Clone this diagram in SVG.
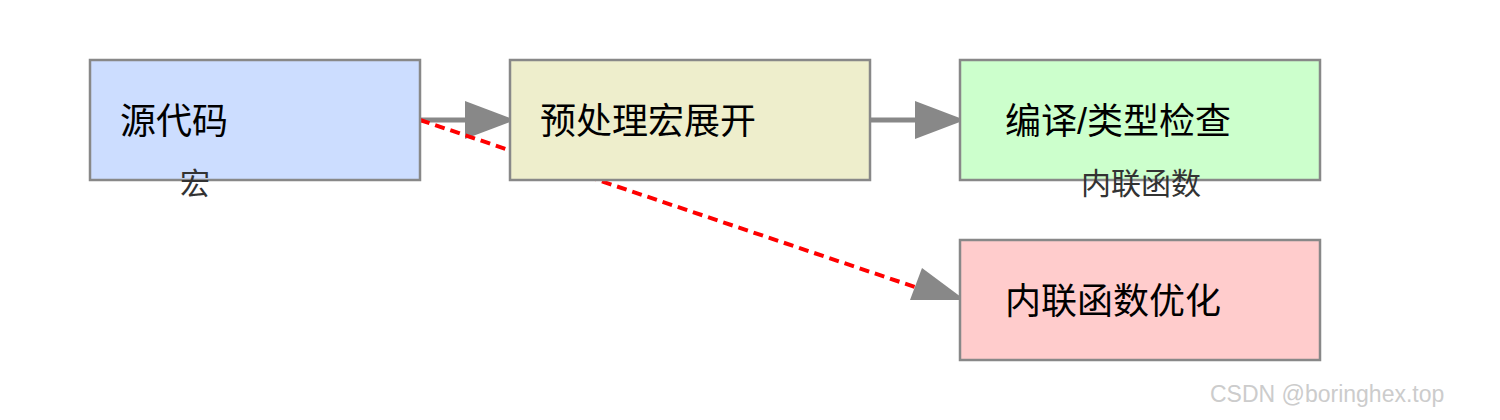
<svg xmlns="http://www.w3.org/2000/svg" width="1500" height="420" viewBox="0 0 1500 420">
<style>
.b{stroke:#888;stroke-width:2.5}
.t{font-family:"Liberation Sans","Noto Sans CJK SC",sans-serif;font-size:36px;fill:#000}
.s{font-family:"Liberation Sans","Noto Sans CJK SC",sans-serif;font-size:30px;fill:#333}
</style>
<rect width="1500" height="420" fill="#fff"/>
<g id="connectors">
<line x1="420" y1="120" x2="470" y2="120" stroke="#888" stroke-width="5"/>
<polygon points="465,101 515,120 465,139" fill="#888"/>
<line x1="870" y1="120" x2="920" y2="120" stroke="#888" stroke-width="5"/>
<polygon points="915,101 965,120 915,139" fill="#888"/>
<line x1="420" y1="120" x2="915" y2="287" stroke="#f00" stroke-width="4" stroke-dasharray="10,6"/>
<polygon points="922,268 965,300 910,300" fill="#888"/>
</g>
<g id="src"><rect class="b" x="90" y="60" width="330" height="120" fill="#ccddff"/><text class="t" x="120" y="134">源代码</text></g>
<g id="pre"><rect class="b" x="510" y="60" width="360" height="120" fill="#eeeecc"/><text class="t" x="540" y="134">预处理宏展开</text></g>
<g id="comp"><rect class="b" x="960" y="60" width="360" height="120" fill="#ccffcc"/><text class="t" x="1005" y="134">编译/类型检查</text></g>
<g id="inl"><rect class="b" x="960" y="240" width="360" height="120" fill="#ffcccc"/><text class="t" x="1005" y="314">内联函数优化</text></g>
<text class="s" x="180" y="194">宏</text>
<text class="s" x="1081" y="194">内联函数</text>
<text x="1210" y="402" font-family="Liberation Sans,sans-serif" font-size="23" fill="#ccc">CSDN @boringhex.top</text>
</svg>
